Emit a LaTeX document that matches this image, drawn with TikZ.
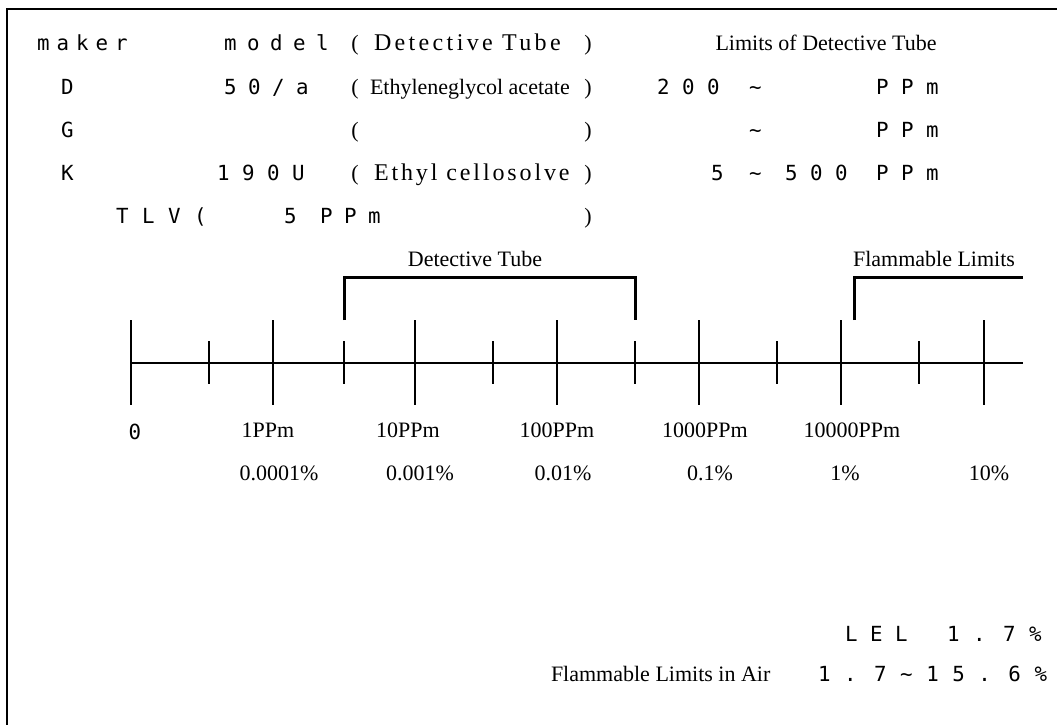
\documentclass[tikz,border=0pt]{standalone}
\usepackage{fontspec}
\usepackage{tikz}
\usetikzlibrary{positioning}
\setmainfont{Liberation Serif}
\newfontfamily\gothic{DejaVu Sans Mono}

\begin{document}
\begin{tikzpicture}[
  x=1pt, y=-1pt,
  every node/.style={inner sep=0pt, outer sep=0pt},
  gothicRow/.style={font={\fontsize{20.8}{24}\gothic\spaceskip=#1pt\relax}, anchor=base west},
  gothicRow/.default=12.5,
  romanText/.style={font={\fontsize{22}{26}\selectfont}, anchor=base},
  romanSpaced/.style={font={\fontsize{24}{28}\selectfont\addfontfeature{LetterSpace=#1}}, anchor=base west},
  romanLabel/.style={font={\fontsize{22}{26}\selectfont}},
  axisLine/.style={line width=1.3pt},
  majorTick/.style={line width=1.3pt},
  minorTick/.style={line width=1.3pt},
  rangeBracket/.style={line width=3pt}
]
  \useasboundingbox (0,0) rectangle (1057,725);

  % Frame, open at right and bottom.
  \draw[line width=2.5pt] (7,725) -- (7,9) -- (1057,9);

  % Header table.
  \node[gothicRow=7] (maker) at (37,51) {m a k e r};
  \node[gothicRow=10.5] (model) at (224,51) {m o d e l};
  \node[romanText] (openHead) at (355,51) {(};
  \node[romanSpaced=14] (tubeHead) at (374,51) {Detective Tube};
  \node[romanText] (closeHead) at (588,51) {)};
  \node[romanText] (limitsHead) at (826,51) {Limits of Detective Tube};

  \node[gothicRow] (makerD) at (61,94) {D};
  \node[gothicRow=11.5] (modelD) at (224,94) {5 0 / a};
  \node[romanText] (openD) at (355,94) {(};
  \node[romanText, anchor=base west] (gasD) at (370,94) {Ethyleneglycol acetate};
  \node[romanText] (closeD) at (588,94) {)};
  \node[gothicRow] (lowD) at (657,94) {2 0 0};
  \node[gothicRow] (tildeD) at (749,94) {\textasciitilde};
  \node[gothicRow] (unitD) at (876,94) {P P m};

  \node[gothicRow] (makerG) at (61,137) {G};
  \node[romanText] (openG) at (355,137) {(};
  \node[romanText] (closeG) at (588,137) {)};
  \node[gothicRow] (tildeG) at (749,137) {\textasciitilde};
  \node[gothicRow] (unitG) at (876,137) {P P m};

  \node[gothicRow] (makerK) at (61,180) {K};
  \node[gothicRow] (modelK) at (217,180) {1 9 0 U};
  \node[romanText] (openK) at (355,180) {(};
  \node[romanSpaced=12] (gasK) at (374,180) {Ethyl cellosolve};
  \node[romanText] (closeK) at (588,180) {)};
  \node[gothicRow] (lowK) at (711,180) {5};
  \node[gothicRow] (tildeK) at (749,180) {\textasciitilde};
  \node[gothicRow] (highK) at (785,180) {5 0 0};
  \node[gothicRow] (unitK) at (876,180) {P P m};

  \node[gothicRow=13.5] (tlv) at (116,223) {T L V (};
  \node[gothicRow=11.5] (tlvValue) at (284,223) {5\hspace{23.5pt}P P m};
  \node[romanText] (closeTlv) at (588,223) {)};

  % Log scale.
  \coordinate (axisL) at (131,363);
  \coordinate (axisR) at (1023,363);
  \draw[axisLine] (axisL) -- (axisR);
  \foreach \x [count=\i] in {131,273,415,557,699,841,984} {
    \coordinate (major\i) at (\x,363);
    \draw[majorTick] (\x,320) -- (\x,405);
  }
  \foreach \x in {209,344,493,635,777,919}
    \draw[minorTick] (\x,341) -- (\x,384);

  % Ranges above the scale.
  \draw[rangeBracket] (344,320) -- (344,277) -- (635,277) -- (635,320);
  \draw[rangeBracket] (854,320) -- (854,277) -- (1023,277);
  \node[romanLabel] (tubeTitle) at (475,259) {Detective Tube};
  \node[romanLabel] (flamTitle) at (934,259) {Flammable Limits};

  % Scale labels.
  \node[font={\fontsize{20.8}{24}\gothic}] (zero) at (135,432) {0};
  \foreach \x/\t/\n in {268/1PPm/a, 408/10PPm/b, 557/100PPm/c, 705/1000PPm/d, 852/10000PPm/e}
    \node[romanLabel] (ppm\n) at (\x,430) {\t};
  \foreach \x/\t/\n in {279/{0.0001\%}/a, 420/{0.001\%}/b, 563/{0.01\%}/c, 710/{0.1\%}/d, 845/{1\%}/e, 989/{10\%}/f}
    \node[romanLabel] (pct\n) at (\x,473) {\t};

  % Flammability data.
  \node[gothicRow] (lel) at (845,641) {L E L};
  \node[gothicRow=13.5] (lelValue) at (947,641) {1 . 7 \%};
  \node[romanText, anchor=base west] (airLabel) at (551,681) {Flammable Limits in Air};
  \node[gothicRow=13.5] (airRange) at (818,681) {1 . 7 \textasciitilde{} 1 5 . 6 \%};
\end{tikzpicture}
\end{document}
